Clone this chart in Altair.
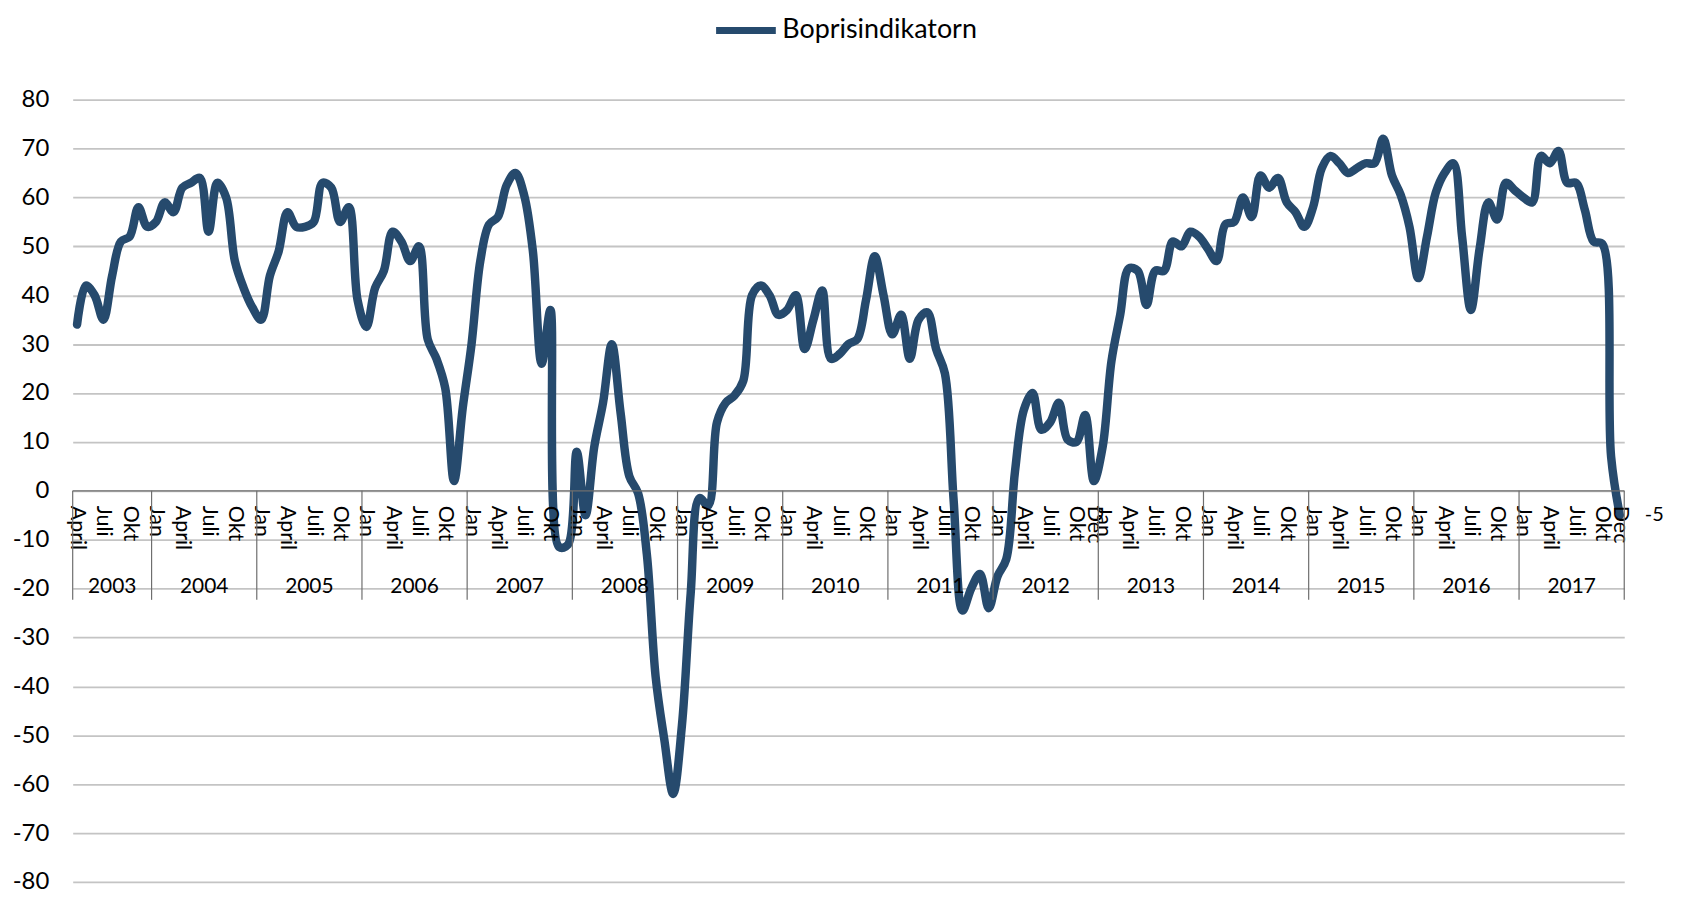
import altair as alt
import pandas as pd

# ---- data ----
series_name = "Boprisindikatorn"
start_year, start_month = 2003, 4
values = [
    # 2003 Apr-Dec
    34, 42, 40, 35, 44, 51, 52, 58, 54,
    # 2004
    55, 59, 57, 62, 63, 64, 53, 63, 60, 47, 41.5, 37.5,
    # 2005
    35, 44, 49, 57, 54, 54, 55, 63, 62, 55, 58, 39,
    # 2006
    33.5, 41.5, 45, 53, 51, 47, 50, 31, 27, 21, 2, 17,
    # 2007
    30, 47, 54.5, 56, 62.5, 65, 60.5, 49, 26, 37, -11.5, -11,
    # 2008
    8, -5, 9, 18, 30, 16, 3, -0.5, -13, -38, -51, -62,
    # 2009
    -48, -21, -1.5, -3, 14, 18, 19.5, 22.5, 40, 42, 40, 36,
    # 2010
    37, 40, 29, 35, 41, 27, 28, 30, 31, 39, 48, 40,
    # 2011
    32, 36, 27, 35, 36.5, 29, 24, -2, -24.5, -20, -17, -24,
    # 2012
    -17.5, -14, 4, 16.5, 20, 12.5, 14, 18, 10.5, 10, 15.5, 2,
    # 2013
    9, 26.5, 36, 45.5, 45, 38, 45, 45, 51, 50, 53, 52,
    # 2014
    49.5, 47, 54.5, 55, 60, 56, 64.5, 62, 64, 59, 57, 54,
    # 2015
    58, 66, 68.5, 67, 65, 66, 67, 67, 72, 64.5, 60.5, 54,
    # 2016
    43.5, 52, 61, 65, 67, 52, 37, 49.5, 59, 55.5, 63, 61.5,
    # 2017
    60, 59, 68.5, 67, 69.5, 63, 63, 57.5, 51, 50.5, 7, -5,
]
month_names = {1: "Jan", 4: "April", 7: "Juli", 10: "Okt"}
extra_month_labels = {(2012, 12): "Dec", (2017, 12): "Dec"}
last_label = "-5"

# ---- tables ----
rows = []
for i, v in enumerate(values):
    m0 = start_month - 1 + i
    y = start_year + m0 // 12
    m = m0 % 12 + 1
    rows.append({"idx": i + 0.5, "value": v, "year": y, "month": m, "series": series_name})
df = pd.DataFrame(rows)
n = len(values)

mlab = []
for r in rows:
    name = month_names.get(r["month"]) or extra_month_labels.get((r["year"], r["month"]))
    if name:
        mlab.append({"idx": r["idx"], "label": name})
mlab = pd.DataFrame(mlab)

years = sorted(df["year"].unique())
ylab, seps = [], []
for y in years:
    sub = df[df["year"] == y]
    lo = float(sub["idx"].min() - 0.5)
    hi = float(sub["idx"].max() + 0.5)
    ylab.append({"idx": (lo + hi) / 2, "label": str(int(y))})
    seps.append({"idx": lo})
seps.append({"idx": float(n)})
ylab = pd.DataFrame(ylab)
seps = pd.DataFrame(seps)
lastpt = pd.DataFrame([{"idx": n - 0.5, "value": values[-1], "label": last_label}])
axis_span = pd.DataFrame([{"idx": 0.0, "idx2": float(n)}])

FONT = "Lato"
LINE = "#264a6d"
AX = "#6e6e6e"

xs = alt.Scale(domain=[0, n], nice=False, zero=False)
ys = alt.Scale(domain=[-80, 80], nice=False)

X = alt.X("idx:Q", scale=xs, axis=None)

line = alt.Chart(df).mark_line(
    interpolate="catmull-rom", strokeWidth=8.5, strokeCap="round", strokeJoin="round"
).encode(
    x=X,
    y=alt.Y(
        "value:Q", scale=ys, title=None,
        axis=alt.Axis(values=list(range(-80, 81, 10)), grid=True, gridColor="#c4c4c4",
                      gridWidth=1.8, domain=False, ticks=False,
                      labelFont=FONT, labelFontSize=24, labelColor="#000000",
                      labelPadding=24, labelExpr="'' + datum.value"),
    ),
    color=alt.Color(
        "series:N",
        scale=alt.Scale(domain=[series_name], range=[LINE]),
        legend=alt.Legend(
            title=None, orient="none", legendX=643, legendY=-103,
            symbolType="stroke", symbolStrokeWidth=7, symbolSize=3600,
            labelFont=FONT, labelFontSize=27, labelColor="#000000",
            labelOffset=3, labelLimit=600, padding=0,
        ),
    ),
)

axis_line = alt.Chart(axis_span).transform_calculate(y0="0").mark_rule(
    color=AX, strokeWidth=1.2
).encode(x=X, x2="idx2:Q", y="y0:Q")

sep_rules = alt.Chart(seps).transform_calculate(y0="0", y1="-22.3").mark_rule(
    color=AX, strokeWidth=1.2
).encode(x=X, y="y0:Q", y2="y1:Q")

month_text = alt.Chart(mlab).transform_calculate(y0="0").mark_text(
    angle=90, align="left", baseline="middle", dx=15,
    font=FONT, fontSize=21.5, color="#000000",
).encode(x=X, y="y0:Q", text="label:N")

year_text = alt.Chart(ylab).transform_calculate(y0="-19.6").mark_text(
    align="center", baseline="middle", font=FONT, fontSize=21, color="#000000",
).encode(x=X, y="y0:Q", text="label:N")

end_text = alt.Chart(lastpt).mark_text(
    align="left", baseline="middle", dx=25, font=FONT, fontSize=20, color="#000000",
).encode(x=X, y="value:Q", text="label:N")

chart = alt.layer(
    line, month_text, year_text, axis_line, sep_rules, end_text
).properties(
    width=1559, height=786,
    padding={"left": 65, "top": 90, "right": 50, "bottom": 12},
    autosize=alt.AutoSizeParams(type="none"),
).configure_view(strokeWidth=0)

chart.save("out.html", embed_options={"renderer": "svg", "actions": False})
